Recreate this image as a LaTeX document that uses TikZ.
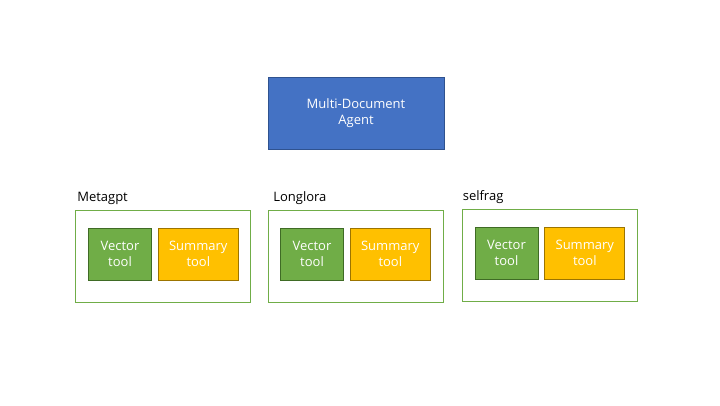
\documentclass[tikz,border=0pt]{standalone}
\usepackage{fontspec}
\setmainfont{Open Sans}
\usepackage{tikz}
\usetikzlibrary{positioning}
\definecolor{agentblue}{HTML}{4472C4}
\definecolor{agentedge}{HTML}{2F528F}
\definecolor{vecgreen}{HTML}{70AD47}
\definecolor{vecedge}{HTML}{3F6B25}
\definecolor{sumyellow}{HTML}{FFC000}
\definecolor{sumedge}{HTML}{9C7400}
\tikzset{
  agent/.style = {draw=agentedge, fill=agentblue, text=white, rectangle, line width=0.8pt, minimum width=176pt, minimum height=72pt, align=center, font=\fontsize{13}{16.5}\selectfont},
  group/.style = {draw=vecgreen, rectangle, line width=0.8pt, minimum width=175pt, minimum height=92pt},
  vtool/.style = {draw=vecedge, fill=vecgreen, text=white, rectangle, line width=0.8pt, minimum width=63pt, minimum height=52pt, inner sep=0pt, align=center, font=\fontsize{13}{16.5}\selectfont},
  stool/.style = {draw=sumedge, fill=sumyellow, text=white, rectangle, line width=0.8pt, minimum width=80pt, minimum height=52pt, inner sep=0pt, align=center, font=\fontsize{13}{16.5}\selectfont},
  glabel/.style = {anchor=south west, inner sep=0pt, font=\fontsize{13}{15}\selectfont}
}

\begin{document}
\begin{tikzpicture}[x=1pt, y=-1pt]
            \useasboundingbox (0,0) rectangle (720,405);
            \node[agent] (agent) at (356,113) {Multi-Document\\Agent};
            % document groups
            \node[group] (g1) at (163,256) {};
            \node[group] (g2) at (356,256) {};
            \node[group] (g3) at (549.5,255) {};
            \node[glabel] (l1) at ([xshift=2pt, yshift=5pt]g1.north west) {Metagpt};
            \node[glabel] (l2) at ([xshift=5pt, yshift=5pt]g2.north west) {Longlora};
            \node[glabel] (l3) at ([xshift=1pt, yshift=5pt]g3.north west) {selfrag};
            % tools
            \node[vtool, below right=18pt and 13pt of g1.north west, anchor=north west] (v1) {Vector\\tool};
            \node[stool, right=6pt of v1] (s1) {Summary\\tool};
            \node[vtool, below right=18pt and 12pt of g2.north west, anchor=north west] (v2) {Vector\\tool};
            \node[stool, right=6pt of v2] (s2) {Summary\\tool};
            \node[vtool, below right=18pt and 13pt of g3.north west, anchor=north west] (v3) {Vector\\tool};
            \node[stool, right=6pt of v3] (s3) {Summary\\tool};
        \end{tikzpicture}
\end{document}
